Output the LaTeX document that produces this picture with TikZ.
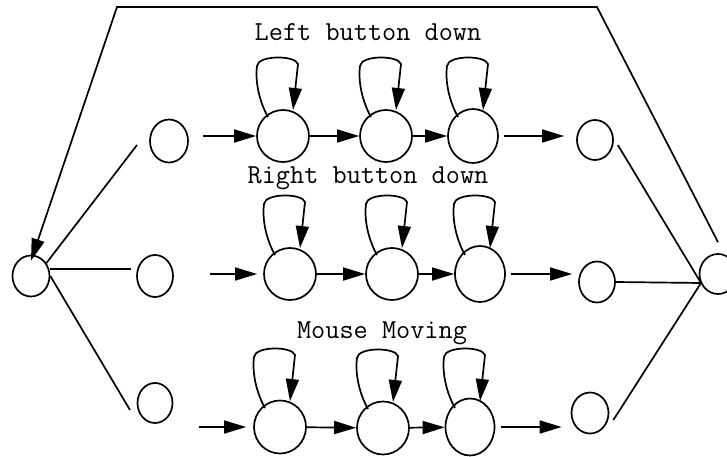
\documentclass[tikz,border=0pt]{standalone}
\usepackage{fontspec}
\usetikzlibrary{arrows.meta,shapes.geometric,calc}
\tikzset{
  st/.style={draw, ellipse, line width=1.7pt, inner sep=0pt, minimum width=52pt, minimum height=53pt},
  sm/.style={draw, ellipse, line width=1.7pt, inner sep=0pt, minimum width=37pt, minimum height=41pt},
  arr/.style={line width=1.7pt, -{Triangle[length=22pt,width=13pt]}},
  ln/.style={line width=1.7pt},
  lbl/.style={font=\ttfamily\fontsize{27.5}{27.5}\selectfont, inner sep=0pt}
}
\newcommand\selfloop[1]{%
  \draw[arr] ($(#1)+(-15,-19)$) .. controls ($(#1)+(-24,-35)$) and ($(#1)+(-28,-55)$) .. ($(#1)+(-26,-70)$)
    .. controls ($(#1)+(-25,-81)$) and ($(#1)+(12,-81)$) .. ($(#1)+(15,-72)$) -- ($(#1)+(10,-26)$);}
\begin{document}
\begin{tikzpicture}[x=1pt,y=-1pt]
\useasboundingbox (0,0) rectangle (727,457);
% end nodes
\node[sm] (L) at (31,276) {};
\node[sm, minimum height=40pt] (R) at (718,274) {};
% row 1
\node[sm, minimum width=38pt, minimum height=43pt] (a1) at (169,141) {};
\node[st, minimum height=52pt] (b1) at (283,136) {};
\node[st, minimum height=52pt] (b2) at (386,136) {};
\node[st, minimum width=50pt, minimum height=54pt] (b3) at (473,136) {};
\node[sm, minimum width=36pt, minimum height=40pt] (c1) at (595,140) {};
% row 2
\node[sm, minimum width=36pt, minimum height=42pt] (a2) at (155,276) {};
\node[st, minimum height=52pt] (b4) at (290,274) {};
\node[st, minimum height=52pt] (b5) at (392,274) {};
\node[st, minimum width=50pt, minimum height=56pt] (b6) at (480,274) {};
\node[sm, minimum width=36pt] (c2) at (597,282) {};
% row 3
\node[sm, minimum width=35pt, minimum height=40pt] (a3) at (155,403) {};
\node[st] (b7) at (280,427) {};
\node[st] (b8) at (383,428) {};
\node[st, minimum width=49pt, minimum height=57pt] (b9) at (470,427) {};
\node[sm] (c3) at (590,413) {};
% labels
\node[lbl] (t1) at (368,32) {Left button down};
\node[lbl] (t2) at (368,178) {Right button down};
\node[lbl] (t3) at (382,333) {Mouse Moving};
% free ends
\coordinate (e1) at (137,145);
\coordinate (e2) at (131,269);
\coordinate (e3) at (130,410);
\coordinate (rin) at (701,283);
\coordinate (tl) at (117,7);
\coordinate (tr) at (597,7);
% left fan
\draw[ln] (L.40) -- (e1);
\draw[ln] (e2 -| L.east) -- (e2);
\draw[ln] (L.east) -- (e3);
% top return line
\draw[arr] ([yshift=11pt]R.north) -- (tr) -- (tl) -- ([yshift=-6pt]L.north);
% right fan
\draw[ln] ([shift={(4,5)}]c1.east) -- (rin);
\draw[ln] (c2.east) -- (rin);
\draw[ln] ([shift={(4,7)}]c3.east) -- (rin);
% row 1 arrows
\draw[arr, shorten <=14pt] (a1.east |- b1.west) -- (b1.west);
\draw[arr] (b1) -- (b2);
\draw[arr] (b2) -- (b3);
\draw[arr, shorten <=5pt, shorten >=12pt] (b3.east) -- (b3.east -| c1.west);
% row 2 arrows
\draw[arr, shorten <=36pt, shorten >=6pt] (a2.east |- b4.west) -- (b4.west);
\draw[arr] (b4) -- (b5);
\draw[arr] (b5) -- (b6);
\draw[arr, shorten <=5pt, shorten >=6pt] (b6.east) -- (b6.east -| c2.west);
% row 3 arrows
\draw[arr, shorten <=26pt, shorten >=7pt] (a3.east |- b7.west) -- (b7.west);
\draw[arr] (b7) -- (b8);
\draw[arr] (b8) -- (b9);
\draw[arr, shorten <=6pt, shorten >=9pt] (b9.east) -- (b9.east -| c3.west);
% self loops
\selfloop{b1}\selfloop{b2}\selfloop{b3}
\selfloop{b4}\selfloop{b5}\selfloop{b6}
\selfloop{b7}\selfloop{b8}\selfloop{b9}
\end{tikzpicture}
\end{document}
